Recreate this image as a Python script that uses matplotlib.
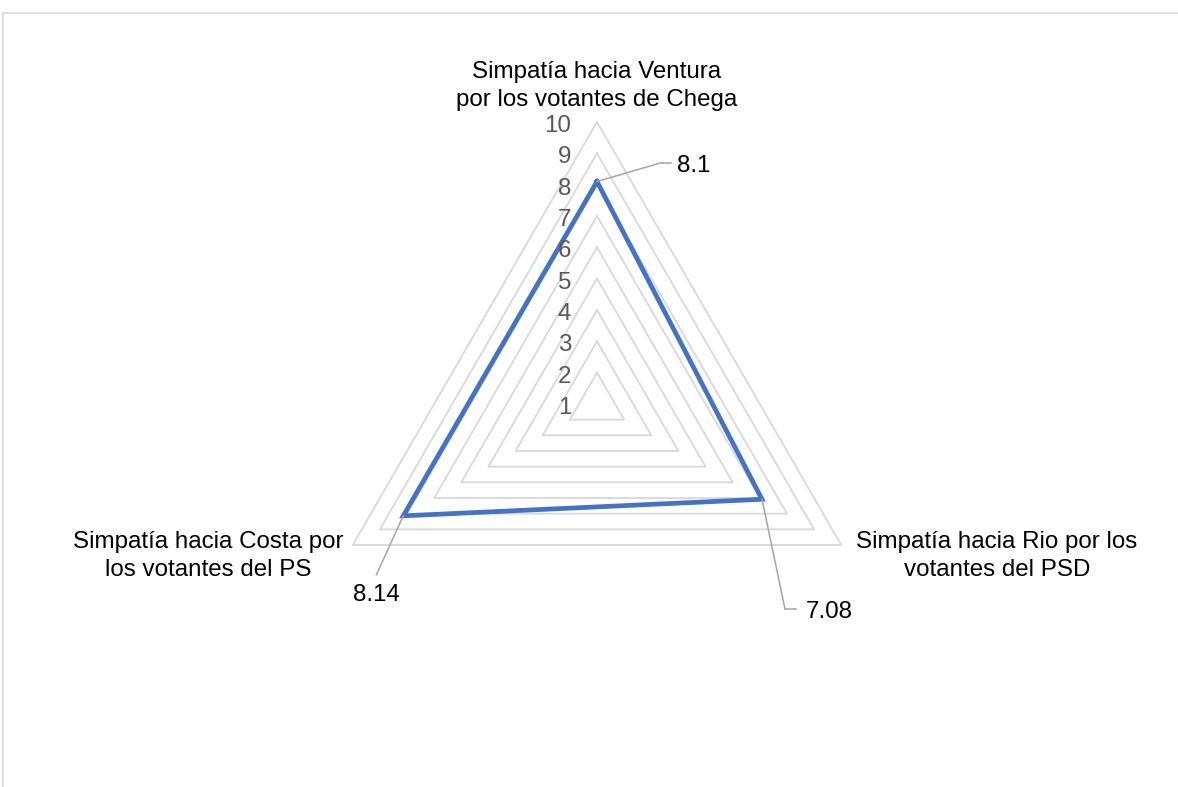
"""Radar chart: simpatía hacia los líderes por los votantes de su partido."""

import numpy as np
import matplotlib.pyplot as plt
from matplotlib.lines import Line2D

plt.rcParams["font.family"] = ["Liberation Sans", "DejaVu Sans"]

# %% data
categories = [
    "Simpatía hacia Ventura\npor los votantes de Chega",
    "Simpatía hacia Rio por los\nvotantes del PSD",
    "Simpatía hacia Costa por\nlos votantes del PS",
]
values = [8.1, 7.08, 8.14]
value_labels = ["8.1", "7.08", "8.14"]
ring_values = [2, 3, 4, 5, 6, 7, 8, 9, 10]
tick_values = [1, 2, 3, 4, 5, 6, 7, 8, 9, 10]

# %% style
W, H = 1178, 787
FS = 17.4
GRID = "#d9d9d9"
LINE = "#4472C4"
LEADER = "#a6a6a6"
TICK = "#595959"

fig = plt.figure(figsize=(W / 100, H / 100), dpi=100)

# chart-area border (only top and left edges are visible in the crop)
fig.add_artist(Line2D([3 / W, 3 / W], [0, 1 - 13 / H], color=GRID, lw=1.2))
fig.add_artist(Line2D([3 / W, 1], [1 - 13 / H, 1 - 13 / H], color=GRID, lw=1.2))

cx, cy, R = 597, 404, 282
ax = fig.add_axes([(cx - R) / W, (H - cy - R) / H, 2 * R / W, 2 * R / H],
                  projection="polar")
ax.set_theta_offset(np.pi / 2)
ax.set_theta_direction(-1)
ax.set_rlim(1, 10)
ax.grid(False)
ax.set_xticks([])
ax.set_yticks([])
ax.spines["polar"].set_visible(False)
ax.patch.set_visible(False)

theta = np.linspace(0, 2 * np.pi, len(categories), endpoint=False)
theta_closed = np.append(theta, theta[0])

# triangular grid rings
for v in ring_values:
    ax.plot(theta_closed, [v] * (len(categories) + 1), color=GRID, lw=1.3,
            zorder=1, clip_on=False)

# data series
vals_closed = values + values[:1]
ax.plot(theta_closed, vals_closed, color=LINE, lw=3.4, zorder=3,
        solid_joinstyle="miter", clip_on=False)

# axis value labels along the top spoke
for v in tick_values:
    ax.annotate(str(v), xy=(0, v), xytext=(-18.7, -2.8), textcoords="offset points",
                ha="right", va="center", fontsize=FS, color=TICK,
                annotation_clip=False)

# category labels
cat_offsets = [(0, 26.0), (10.8, -8.0), (-6.5, -8.0)]
cat_ha = ["center", "left", "right"]
for t, lab, off, ha in zip(theta, categories, cat_offsets, cat_ha):
    ax.annotate(lab, xy=(t, 10), xytext=off, textcoords="offset points",
                ha=ha, va="center", multialignment="center", fontsize=FS,
                color="black", linespacing=1.38, annotation_clip=False)

# data labels with leader lines
elbows = [(46.8, 13.7), (16.6, -79.2), (-19.4, -42.5)]
ends = [(53.3, 13.7), (24.5, -79.2), None]
text_pos = [(57.6, 11.4), (31.7, -81.4), (-19.4, -57.0)]
text_ha = ["left", "left", "center"]
for t, v, lab, el, tp, ha in zip(theta, values, value_labels, elbows,
                                 text_pos, text_ha):
    ax.annotate("", xy=(t, v), xytext=el, textcoords="offset points",
                arrowprops=dict(arrowstyle="-", color=LEADER, lw=1.1,
                                shrinkA=0, shrinkB=0), annotation_clip=False)
    ax.annotate(lab, xy=(t, v), xytext=tp, textcoords="offset points",
                ha=ha, va="center", fontsize=FS, color="black",
                annotation_clip=False)

# horizontal stubs of the leader lines
for t, v, el, en in zip(theta, values, elbows, ends):
    if en is None:
        continue
    base = ax.transData.transform((t, v))
    x0, y0 = base[0] + el[0] / 0.72, base[1] + el[1] / 0.72
    x1, y1 = base[0] + en[0] / 0.72, base[1] + en[1] / 0.72
    fig.add_artist(Line2D([x0 / W, x1 / W], [y0 / H, y1 / H], color=LEADER,
                          lw=1.1))

fig.savefig("out.png", dpi=100)
